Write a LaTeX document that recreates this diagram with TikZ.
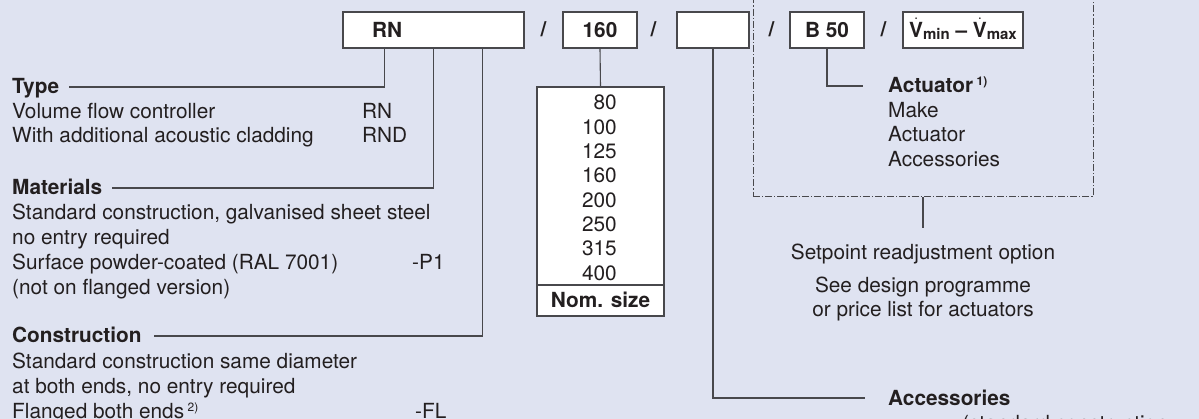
\documentclass[tikz,border=0pt]{standalone}
\usepackage{fontspec}
\setmainfont{TeX Gyre Heros}
\definecolor{bg}{RGB}{223,227,241}
\definecolor{ink}{RGB}{35,31,32}
\definecolor{ln}{RGB}{72,72,76}
\newcommand\vdotV{$\dot{\hbox{\bfseries V}}$}
\newcommand\vsub[1]{\raisebox{-2.5pt}{\fontsize{15}{15}\selectfont\bfseries #1}}
\newcommand\fnmark[1]{\raisebox{7pt}{\fontsize{12}{12}\selectfont #1}}
\begin{document}
\begin{tikzpicture}[x=1pt,y=-1pt,
  every node/.style={font=\fontsize{20.8}{25}\selectfont, text=ink, inner sep=0pt},
  txt/.style={anchor=base west},
  hd/.style={anchor=base west, font=\fontsize{20.8}{25}\selectfont\bfseries},
  codebox/.style={draw=ln, line width=1.2pt, fill=white, minimum height=36pt,
    text height=15pt, text depth=0pt, font=\fontsize{20.8}{25}\selectfont\bfseries},
  slash/.style={anchor=base, font=\fontsize{20.8}{25}\selectfont\bfseries},
  conn/.style={draw=ln, line width=1.1pt},
  dashbox/.style={draw=ln, line width=1pt, dash pattern=on 7pt off 2pt on 1.2pt off 2pt},
]
\useasboundingbox (0,0) rectangle (1199,419);
\clip (0,0) rectangle (1199,419);
\fill[bg] (0,0) rectangle (1199,419);

% dash-dot frame (setpoint readjustment option)
\node[dashbox, minimum width=340pt, minimum height=230pt] (dbox) at (923,82) {};

% code boxes
\node[codebox, text width=123pt, align=left, inner xsep=29pt] (rnbox) at (433.5,30) {RN};
\node[slash] (s1) at (543.5,37) {/};
\node[codebox, minimum width=74pt] (b160) at (600,30) {160};
\node[slash] (s2) at (653.5,37) {/};
\node[codebox, minimum width=72pt] (bempty) at (713,30) {};
\node[slash] (s3) at (771.5,37) {/};
\node[codebox, minimum width=74pt] (b50) at (827,30) {B 50};
\node[slash] (s4) at (883.5,37) {/};
\node[codebox, minimum width=120pt] (bv) at (963,30) {\vdotV\vsub{min} – \vdotV\vsub{max}};

% Type
\node[hd] (type) at (12,94) {Type};
\node[txt] (t1) at (12,118.5) {Volume flow controller};
\node[txt] (t1c) at (362,118.5) {RN};
\node[txt] (t2) at (12,143) {With additional acoustic cladding};
\node[txt] (t2c) at (362,143) {RND};

% Materials
\node[hd] (mat) at (12,195) {Materials};
\node[txt] (m1) at (12,220) {Standard construction, galvanised sheet steel};
\node[txt] (m2) at (12,245) {no entry required};
\node[txt] (m3) at (12,270) {Surface powder-coated (RAL 7001)};
\node[txt] (m3c) at (412,270) {-P1};
\node[txt] (m4) at (12,295) {(not on flanged version)};

% Construction
\node[hd] (con) at (12,343) {Construction};
\node[txt] (c1) at (12,368) {Standard construction same diameter};
\node[txt] (c2) at (12,393) {at both ends, no entry required};
\node[txt] (c3) at (12,418) {Flanged both ends\,\fnmark{2)}};
\node[txt] (c3c) at (415,418) {-FL};

% connectors from RN box
\draw[conn] ([xshift=42pt]rnbox.south west) |- ([xshift=10pt,yshift=7pt]type.base east);
\draw[conn] ([xshift=91pt]rnbox.south west) |- ([xshift=10pt,yshift=7pt]mat.base east);
\draw[conn] ([xshift=140pt]rnbox.south west) |- ([xshift=12pt,yshift=7pt]con.base east);

% nominal size table
\node[draw=ln, line width=1.2pt, fill=white, minimum width=127pt, minimum height=229pt] (nom) at (600.5,201.5) {};
\draw[conn] (b160.south) -- (nom.north);
\draw[draw=ln, line width=2pt] ([yshift=-199pt]nom.north west) -- ([yshift=-199pt]nom.north east);
\foreach \v [count=\i] in {80,100,125,160,200,250,315,400}
  \node[anchor=base east] (n\i) at (617,85.7+24.3*\i) {\v};
\node[slash] (nomlbl) at (600.5,308) {Nom. size};

% Actuator
\node[hd] (act) at (888,93) {Actuator\,\fnmark{1)}};
\node[txt] (a1) at (888,117.5) {Make};
\node[txt] (a2) at (888,142) {Actuator};
\node[txt] (a3) at (888,166.5) {Accessories};
\draw[conn] (b50.south) |- ([xshift=-25pt,yshift=7pt]act.base west);

% Setpoint
\coordinate (spt) at (923,228);
\draw[conn] (dbox.south) -- (spt);
\node[anchor=base] (setp) at (923,260) {Setpoint readjustment option};
\node[anchor=base] (see1) at (923,293) {See design programme};
\node[anchor=base] (see2) at (923,317) {or price list for actuators};

% Accessories
\node[hd] (acc) at (888,406) {Accessories};
\draw[conn] (bempty.south) |- ([xshift=-23pt,yshift=8pt]acc.base west);
\node[txt] (accstd) at (962,430) {(standard construction};
\end{tikzpicture}
\end{document}
